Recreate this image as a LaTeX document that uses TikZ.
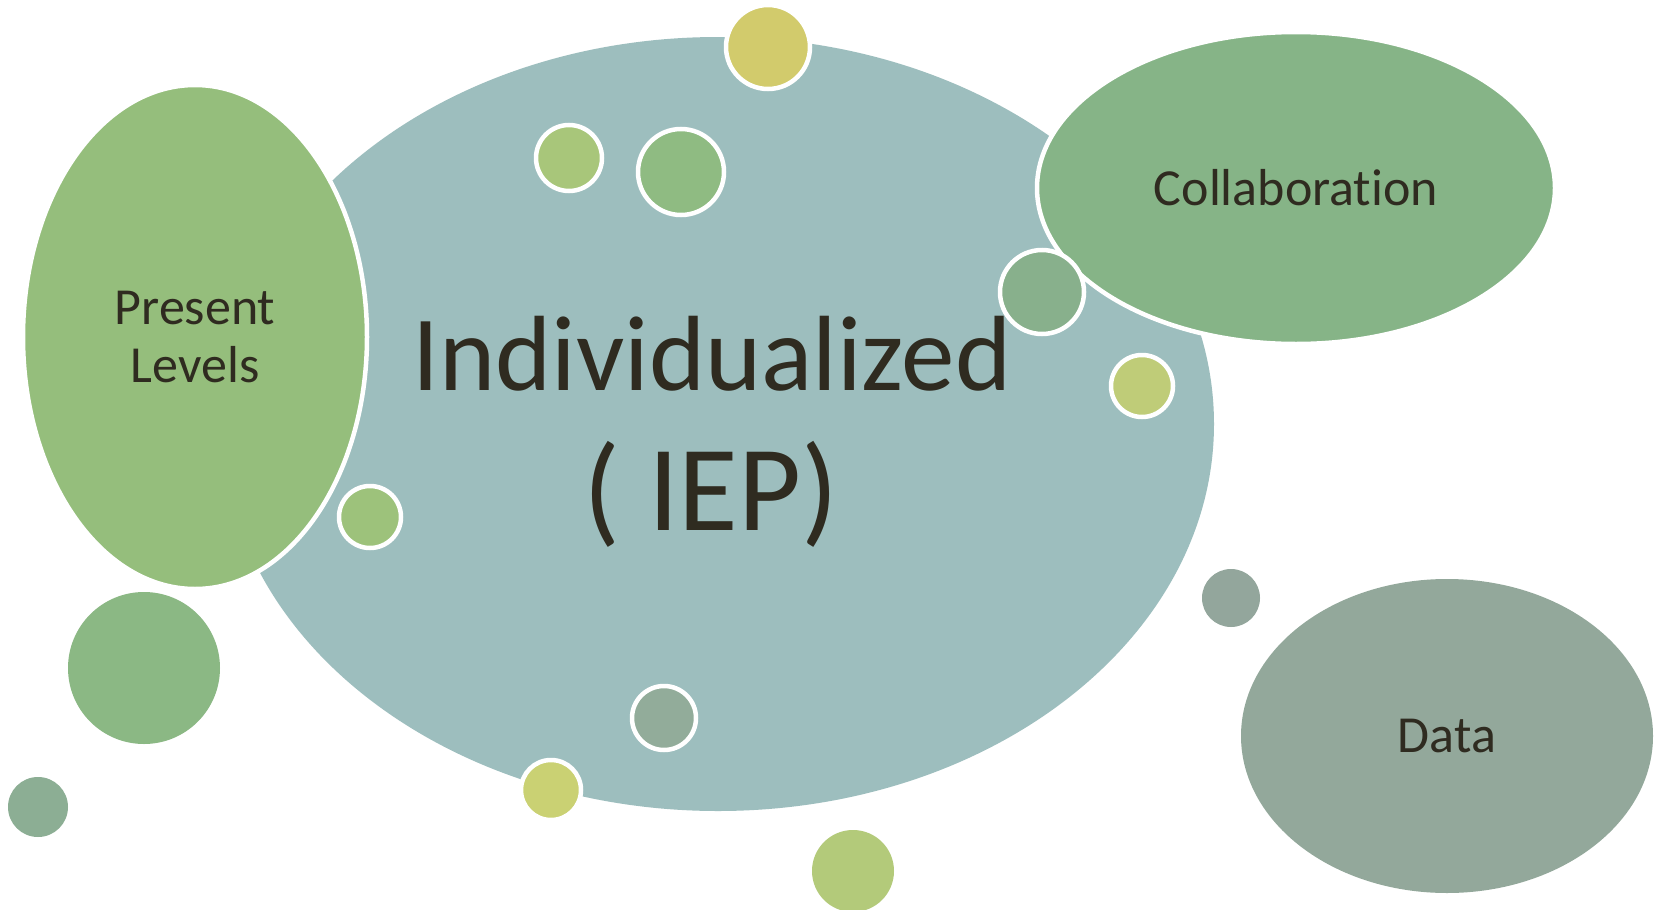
\documentclass[tikz,border=0pt]{standalone}
\usepackage{fontspec}
\setmainfont{Carlito}[Ligatures=NoCommon]
\usetikzlibrary{shapes.geometric}
\definecolor{ink}{HTML}{2F2B20}
\definecolor{teal}{HTML}{9DBEBE}
\definecolor{leaf}{HTML}{95BE7C}
\definecolor{moss}{HTML}{86B487}
\definecolor{sage}{HTML}{93A89B}

\begin{document}
\begin{tikzpicture}[x=1pt,y=-1pt]
\tikzstyle{blob}=[ellipse,inner sep=0pt,text=ink,align=center,font=\fontsize{52}{58}\selectfont]
\tikzstyle{rim}=[draw=white,line width=4.5pt]
\tikzstyle{dot}=[circle,inner sep=0pt]
\fill[white] (0,0) rectangle (1655,910);
\useasboundingbox (0,0) rectangle (1655,910);
% big ellipses
\node [blob,fill=teal,minimum width=992pt,minimum height=774pt] (main) at (718,424) {};
\node [blob,rim,fill=leaf,minimum width=344pt,minimum height=504pt] (present) at (195,337) {Present\\Levels};
\node [blob,rim,fill=moss,minimum width=518pt,minimum height=312pt] (collab) at (1296,188) {Collaboration};
\node [blob,fill=sage,minimum width=412pt,minimum height=314pt] (data) at (1447,736) {Data};
\node [text=ink,anchor=base,font=\fontsize{107}{120}\selectfont] (title) at (712,390) {Individualized};
\node [text=ink,anchor=base,font=\fontsize{122}{130}\selectfont] (iep) at (711,530) {( IEP)};
% bubbles
\node [dot,rim,fill={rgb,255:red,210;green,203;blue,108},minimum size=84pt] (b1) at (768,47) {};
\node [dot,rim,fill={rgb,255:red,168;green,198;blue,122},minimum size=66pt] (b2) at (569,158) {};
\node [dot,rim,fill={rgb,255:red,143;green,187;blue,130},minimum size=86pt] (b3) at (681,172) {};
\node [dot,rim,fill={rgb,255:red,136;green,176;blue,140},minimum size=84pt] (b4) at (1042,292) {};
\node [dot,rim,fill={rgb,255:red,191;green,204;blue,120},minimum size=62pt] (b5) at (1142,386) {};
\node [dot,rim,fill={rgb,255:red,157;green,194;blue,123},minimum size=62pt] (b6) at (370,517) {};
\node [dot,fill={rgb,255:red,139;green,184;blue,132},minimum size=152pt] (b7) at (144,668) {};
\node [dot,fill={rgb,255:red,140;green,174;blue,148},minimum size=60pt] (b8) at (38,807) {};
\node [dot,rim,fill={rgb,255:red,146;green,172;blue,154},minimum size=64pt] (b9) at (664,718) {};
\node [dot,rim,fill={rgb,255:red,202;green,209;blue,115},minimum size=60pt] (b10) at (551,790) {};
\node [dot,fill={rgb,255:red,179;green,202;blue,122},minimum size=82pt] (b11) at (853,871) {};
\node [dot,fill={rgb,255:red,147;green,166;blue,156},minimum size=58pt] (b12) at (1231,598) {};
\end{tikzpicture}
\end{document}
